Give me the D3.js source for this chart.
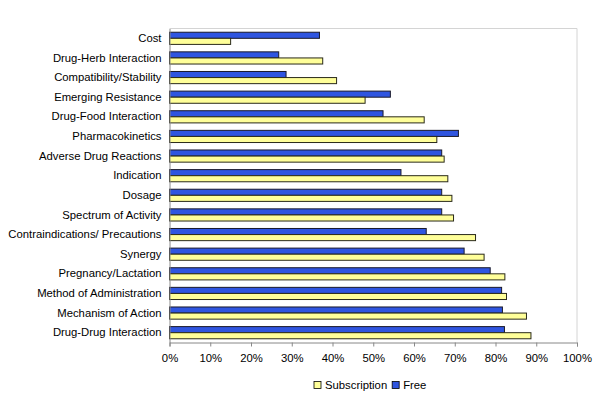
<!DOCTYPE html>
<html>
<head>
<meta charset="utf-8">
<script src="https://cdn.jsdelivr.net/npm/d3@7"></script>
<style>
html,body{margin:0;padding:0;background:#fff;}
svg{display:block;font-family:Arial,"Liberation Sans",sans-serif;}
</style>
</head>
<body>
<svg id="chart" width="600" height="403"></svg>
<script>
const categories = ["Cost","Drug-Herb Interaction","Compatibility/Stability","Emerging Resistance","Drug-Food Interaction","Pharmacokinetics","Adverse Drug Reactions","Indication","Dosage","Spectrum of Activity","Contraindications/ Precautions","Synergy","Pregnancy/Lactation","Method of Administration","Mechanism of Action","Drug-Drug Interaction"];
const freeValues = [36.8,26.8,28.6,54.2,52.4,70.9,66.8,56.8,66.8,66.8,63.0,72.3,78.7,81.5,81.7,82.2];
const subscriptionValues = [15.0,37.6,41.0,48.0,62.5,65.6,67.4,68.3,69.3,69.7,75.1,77.2,82.3,82.7,87.6,88.7];
const xTicks = [0,10,20,30,40,50,60,70,80,90,100];
const seriesNames = ["Subscription","Free"];
const seriesColors = {"Subscription":"#ffff99","Free":"#2f55e0"};

const svg = d3.select("#chart");
const m = {left:169.5, top:28.5, right:577, bottom:342.5};
const fs = "11.3px";

const x = d3.scaleLinear().domain([0,100]).range([m.left, m.right]);
const y = d3.scaleBand().domain(categories).range([m.top, m.bottom]).padding(0);
const barH = y.bandwidth()*0.31;

// plot area border (top & right light gray)
svg.append("path")
  .attr("d", `M${m.left},${m.top}H${m.right}V${m.bottom}`)
  .attr("fill","none").attr("stroke","#d4d4d4").attr("stroke-width",1);

const g = svg.append("g");
categories.forEach((c,i)=>{
  const cy = y(c) + y.bandwidth()/2;
  // Free on top
  g.append("rect")
    .attr("x", x(0)).attr("y", cy - barH)
    .attr("width", x(freeValues[i]) - x(0)).attr("height", barH)
    .attr("fill", seriesColors.Free).attr("stroke","#1a1a2a").attr("stroke-width",1);
  g.append("rect")
    .attr("x", x(0)).attr("y", cy)
    .attr("width", x(subscriptionValues[i]) - x(0)).attr("height", barH)
    .attr("fill", seriesColors.Subscription).attr("stroke","#2a2a1a").attr("stroke-width",1);
});

// x axis
const xAxis = d3.axisBottom(x).tickValues(xTicks).tickFormat(d=>d+"%").tickSize(4).tickPadding(7);
const xg = svg.append("g").attr("transform",`translate(0,${m.bottom})`).call(xAxis);
xg.select(".domain").attr("stroke","#888");
xg.selectAll(".tick line").attr("stroke","#888");
xg.selectAll("text").attr("font-size",fs).attr("fill","#000").attr("font-family","Arial, 'Liberation Sans', sans-serif");

// y axis
const yAxis = d3.axisLeft(y).tickSize(0).tickPadding(8);
const yg = svg.append("g").attr("transform",`translate(${m.left},0)`).call(yAxis);
yg.select(".domain").attr("stroke","#888");
yg.selectAll("text").attr("font-size",fs).attr("fill","#000").attr("font-family","Arial, 'Liberation Sans', sans-serif");

// legend
const lg = svg.append("g").attr("transform","translate(314,385)");
let lx = 0;
seriesNames.forEach((s,i)=>{
  lg.append("rect").attr("x",lx).attr("y",-3.5).attr("width",7).attr("height",7)
    .attr("fill",seriesColors[s]).attr("stroke","#000").attr("stroke-width",0.8);
  const t = lg.append("text").attr("x",lx+11).attr("y",0).attr("dy","0.35em")
    .attr("font-size",fs).attr("fill","#000").text(s);
  lx += 11 + t.node().getComputedTextLength() + 5;
});
</script>
</body>
</html>
